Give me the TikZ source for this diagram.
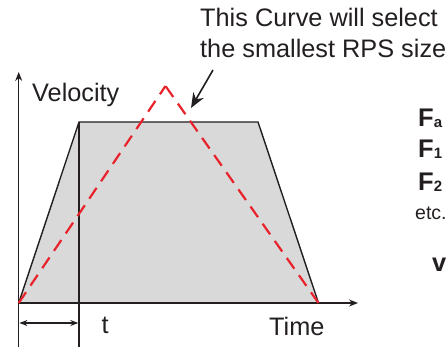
\documentclass[tikz,border=0pt]{standalone}
\usepackage{fontspec}
\setmainfont{Liberation Sans}
\usetikzlibrary{arrows.meta}
\definecolor{ink}{HTML}{231F20}
\definecolor{fillgray}{HTML}{D9D9D9}
\definecolor{redline}{HTML}{E8232B}
\tikzset{
  lbl/.style={anchor=base west, inner sep=0pt, text=ink, font=\fontsize{25.3}{27}\selectfont},
  rlbl/.style={anchor=base west, inner sep=0pt, text=ink, font=\bfseries\fontsize{25.5}{27}\selectfont},
  blk/.style={draw=ink, line width=1.4pt},
  reddash/.style={draw=redline, line width=2.2pt, dash pattern=on 13pt off 8pt},
  axisarrow/.style={blk, -{Stealth[length=9pt,width=7pt]}},
}
\newcommand{\subsm}[1]{{\fontsize{15}{15}\selectfont\raisebox{-1pt}{#1}}}
\begin{document}
\begin{tikzpicture}[x=1pt,y=-1pt]
\useasboundingbox (0,0) rectangle (446,347);
% key points
\coordinate (O) at (18.7,303);
\coordinate (A) at (79,122);
\coordinate (B) at (258,122);
\coordinate (C) at (318.5,303);
\coordinate (P) at (165.5,86);
\coordinate (Ybot) at (18.7,347);
\coordinate (Ytop) at (18.7,72);
\coordinate (Xend) at (358,303);
\coordinate (Vbot) at (79,347);
\coordinate (D1) at (18.7,323);
\coordinate (D2) at (79,323);
\coordinate (Ar1) at (213,70);
\coordinate (Ar2) at (191,108);
% trapezoid
\fill[fillgray] (O) -- (A) -- (B) -- (C) -- cycle;
\draw[blk, line join=miter] (O) -- (A) -- (B) -- (C);
\draw[blk] (A) -- (Vbot);
% axes
\draw[axisarrow] (Ybot) -- (Ytop);
\draw[axisarrow] (O) -- (Xend);
% dimension arrow
\draw[blk, line width=1.2pt, {Stealth[length=8pt,width=6pt]}-{Stealth[length=8pt,width=6pt]}] ([xshift=0.7pt]D1) -- ([xshift=-0.7pt]D2);
% red triangle curve
\draw[reddash] (O) -- (P);
\draw[reddash] (C) -- (P);
% pointer arrow
\draw[draw=ink, line width=1.6pt, -{Stealth[length=15pt,width=12pt]}] (Ar1) -- (Ar2);
% labels
\node[lbl] (curve1) at (200,26.7) {This Curve will select};
\node[lbl] (curve2) at (200,58) {the smallest RPS size};
\node[lbl] (vel) at (32,101.7) {Velocity};
\node[lbl] (time) at (269,335) {Time};
\node[lbl] (tlbl) at (101.5,333) {t};
% right column
\node[rlbl] (fa) at (418,127) {F\subsm{a}};
\node[rlbl] (f1) at (418,158) {F\subsm{1}};
\node[rlbl] (f2) at (418,190) {F\subsm{2}};
\node[anchor=base west, inner sep=0pt, text=ink, font=\fontsize{19.5}{20}\selectfont] (etc) at (415,219) {etc.};
\node[rlbl] (v) at (432,271) {v};
\end{tikzpicture}
\end{document}
